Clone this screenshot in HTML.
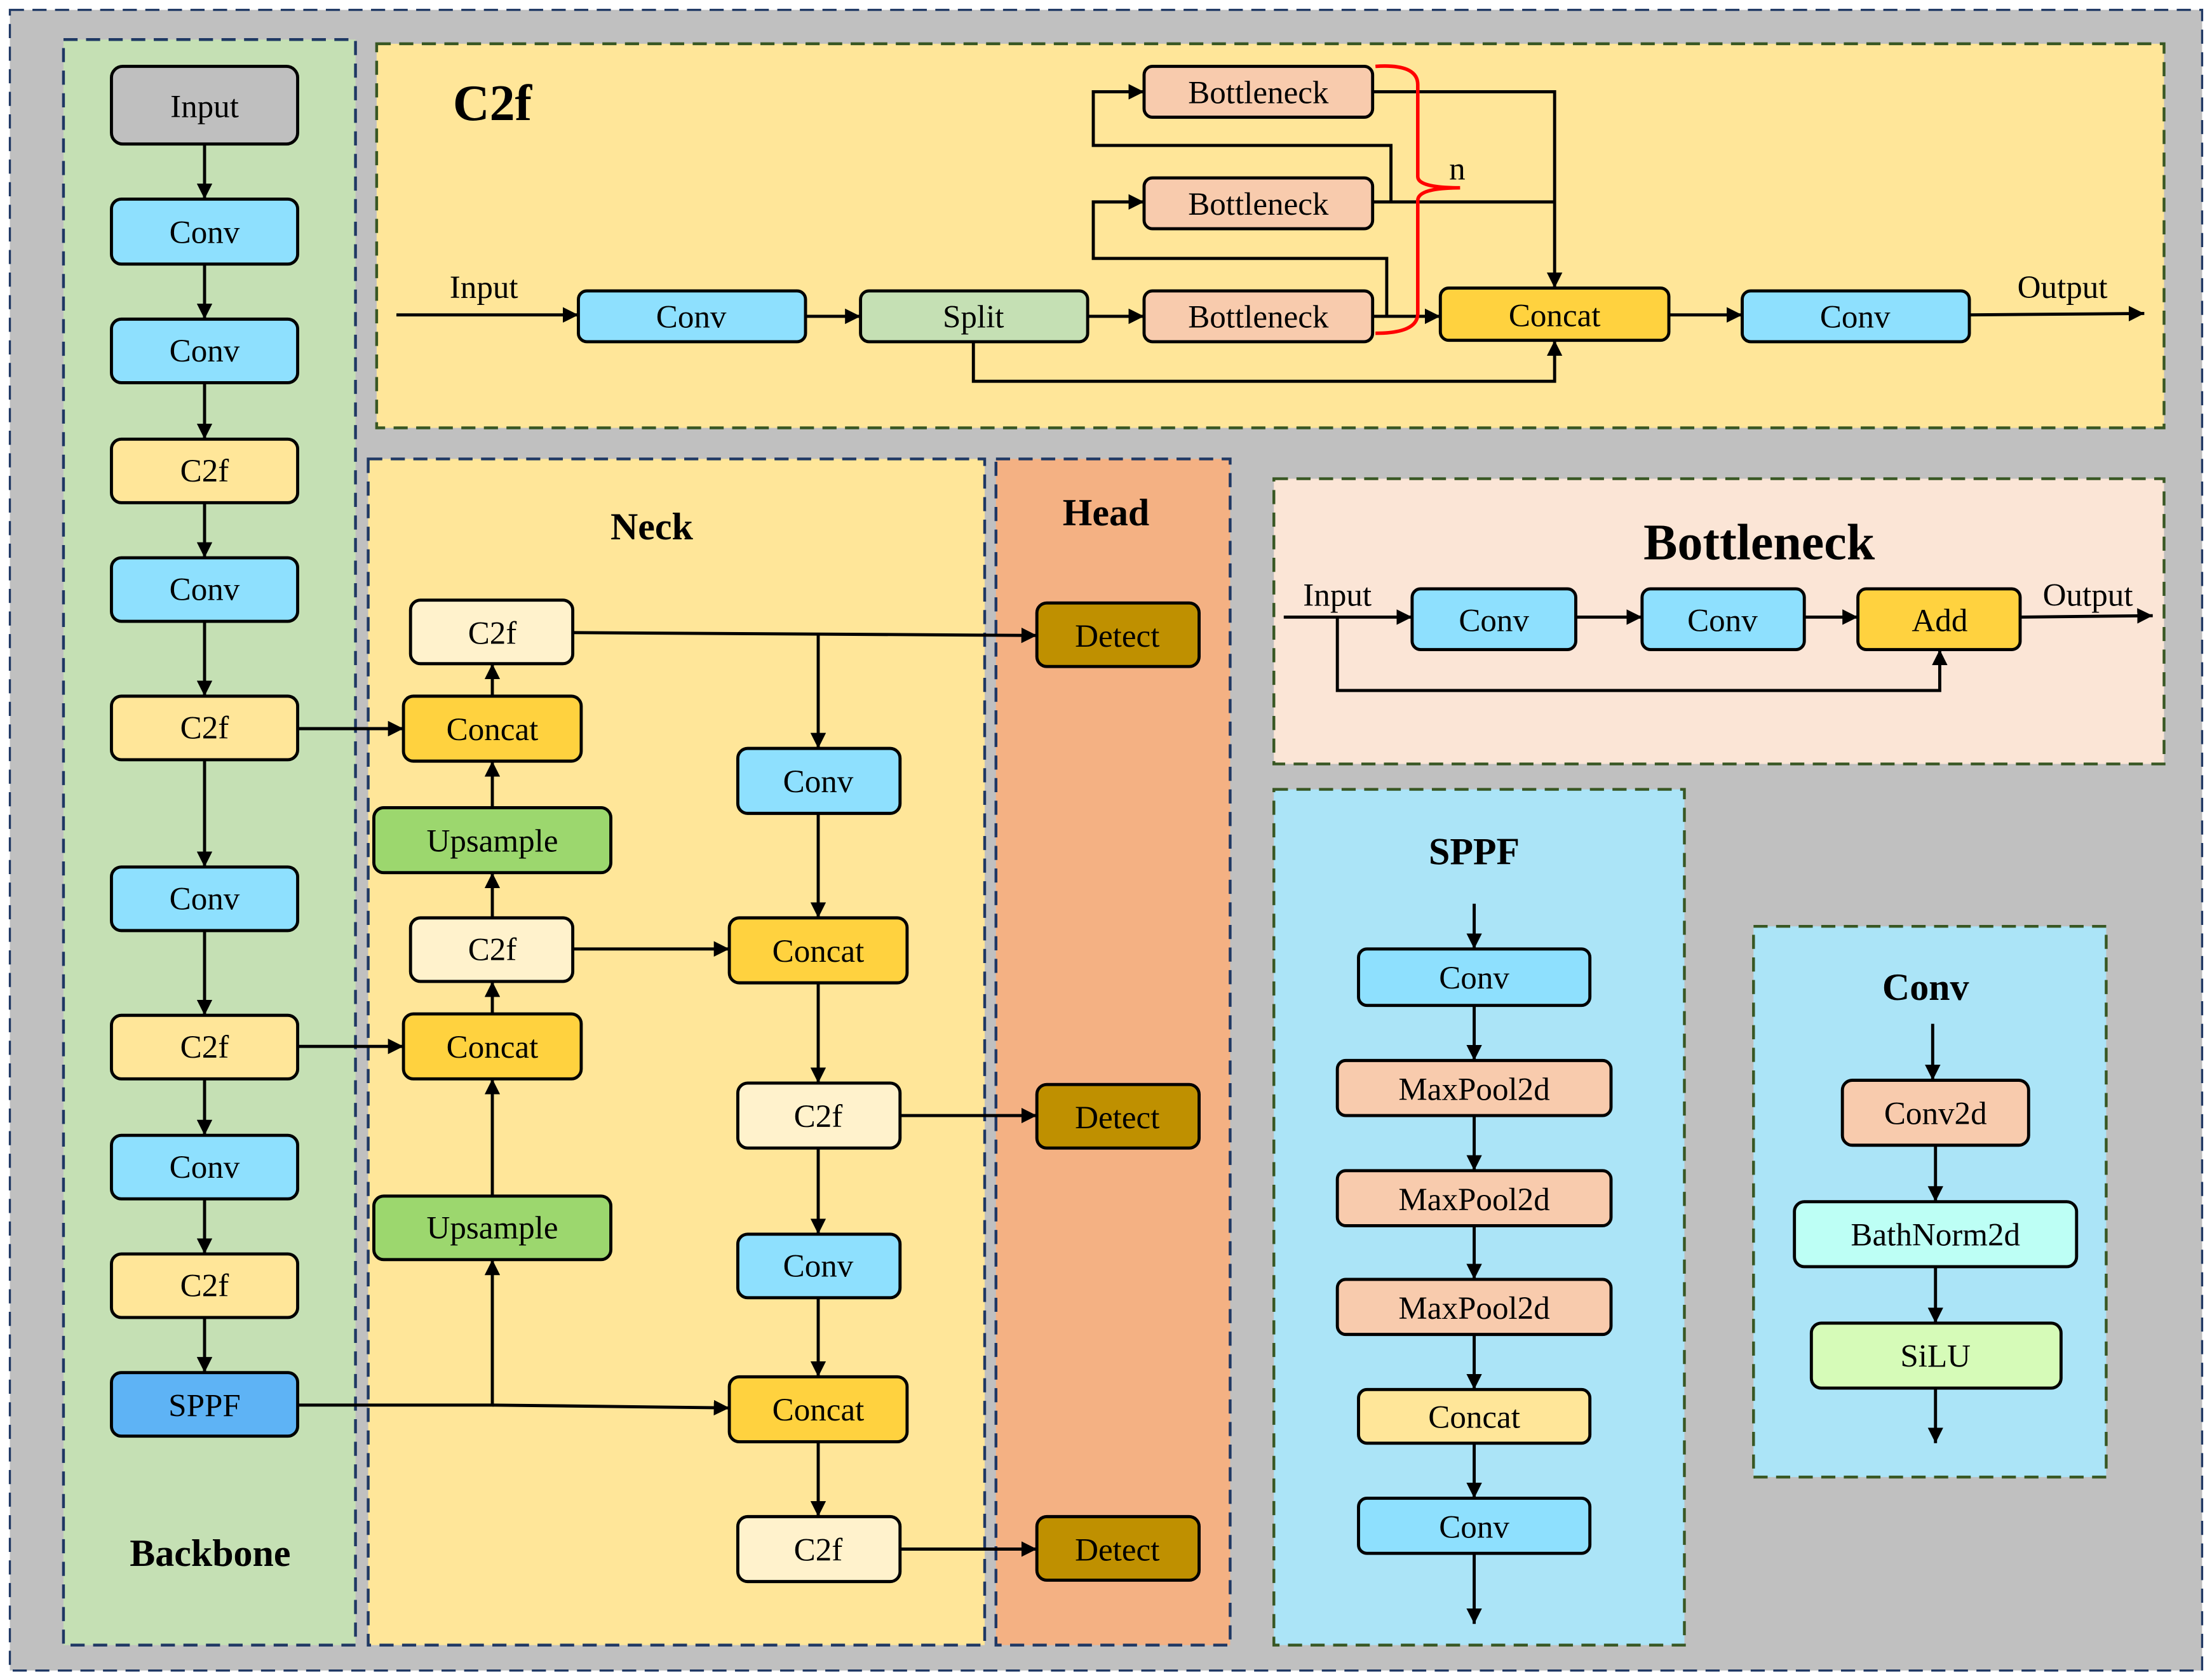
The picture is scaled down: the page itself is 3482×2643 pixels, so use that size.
<!DOCTYPE html>
<html><head><meta charset="utf-8"><style>html,body{margin:0;padding:0;background:#fff}svg{display:block}</style></head><body>
<svg width="3482" height="2643" viewBox="0 0 1568 1189" preserveAspectRatio="none" xmlns="http://www.w3.org/2000/svg" font-family="'Liberation Serif', serif">
<defs><marker id="a" viewBox="0 0 10 10" refX="10" refY="5" markerWidth="5" markerHeight="5" orient="auto"><path d="M0,0L10,5L0,10z" fill="#000"/></marker></defs>
<rect width="1568" height="1189" fill="#fff"/>
<rect x="7" y="7" width="1554" height="1176" fill="#c0c0c0" stroke="#1f3864" stroke-width="1.5" stroke-dasharray="10,6"/>
<g stroke-width="2" stroke-dasharray="10,6">
<rect x="45" y="28" width="207" height="1137" fill="#c5e0b4" stroke="#1f3864"/>
<rect x="267" y="31" width="1267" height="272" fill="#ffe699" stroke="#385723"/>
<rect x="261" y="325" width="437" height="840" fill="#ffe699" stroke="#1f3864"/>
<rect x="706" y="325" width="166" height="840" fill="#f4b183" stroke="#1f3864"/>
<rect x="903" y="339" width="631" height="202" fill="#fbe5d6" stroke="#385723"/>
<rect x="903" y="559" width="291" height="606" fill="#abe4f7" stroke="#385723"/>
<rect x="1243" y="656" width="250" height="390" fill="#abe4f7" stroke="#385723"/>
</g>
<g font-weight="bold" text-anchor="middle" fill="#000">
<text x="149" y="1109" font-size="27">Backbone</text>
<text x="349" y="85" font-size="36">C2f</text>
<text x="462" y="382" font-size="27">Neck</text>
<text x="784" y="372" font-size="27">Head</text>
<text x="1247" y="396" font-size="36">Bottleneck</text>
<text x="1045" y="612" font-size="27">SPPF</text>
<text x="1365" y="708" font-size="27">Conv</text>
</g>
<g stroke="#000" stroke-width="2.2" fill="none" marker-end="url(#a)">
<path d="M145 102V141"/><path d="M145 187V226"/><path d="M145 271V311"/><path d="M145 356V395"/><path d="M145 440V493"/><path d="M145 538V614"/><path d="M145 659V719"/><path d="M145 764V804"/><path d="M145 849V888"/><path d="M145 933V972"/>
<path d="M211 516H286"/><path d="M211 741H286"/>
<path d="M211 995H349V892"/><path d="M349 995L517 997"/>
<path d="M349 847V764"/><path d="M349 718V695"/><path d="M349 650V618"/><path d="M349 572V539"/><path d="M349 493V470"/>
<path d="M406 448L735 450"/><path d="M580 449V530"/>
<path d="M406 672H517"/><path d="M580 576V650"/><path d="M580 696V767"/><path d="M638 790H735"/><path d="M580 813V874"/><path d="M580 919V975"/><path d="M580 1021V1074"/><path d="M638 1097H735"/>
<path d="M281 223H410"/><path d="M571 224H610"/><path d="M771 224H811"/><path d="M973 224H1021"/>
<path d="M690 242V270H1102V241"/>
<path d="M973 65H1102V204"/>
<path d="M983 224V183H775V143H811"/><path d="M986 143V103H775V65H811"/>
<path d="M1183 223H1235"/><path d="M1396 223L1520 222"/>
<path d="M910 437H1001"/><path d="M1117 437H1164"/><path d="M1279 437H1317"/><path d="M1432 437L1526 436"/>
<path d="M948 437V489H1375V460"/>
<path d="M1045 640V672"/><path d="M1045 712V751"/><path d="M1045 790V829"/><path d="M1045 868V906"/><path d="M1045 945V984"/><path d="M1045 1022V1061"/><path d="M1045 1100V1150"/>
<path d="M1370 725V765"/><path d="M1372 811V851"/><path d="M1372 897V937"/><path d="M1372 983V1022"/>
</g>
<path d="M973 143H1102" stroke="#000" stroke-width="2.2" fill="none"/>
<path d="M975 47Q1005 45 1005 60V125Q1005 133 1035 133Q1005 133 1005 142V222Q1005 236 975 236" stroke="#f00" stroke-width="2.5" fill="none"/>
<g stroke="#000" stroke-width="2.2">
<rect x="79" y="47" width="132" height="55" rx="8" fill="#bfbfbf"/>
<rect x="79" y="141" width="132" height="46" rx="7" fill="#8ee0fe"/>
<rect x="79" y="226" width="132" height="45" rx="7" fill="#8ee0fe"/>
<rect x="79" y="311" width="132" height="45" rx="7" fill="#ffe699"/>
<rect x="79" y="395" width="132" height="45" rx="7" fill="#8ee0fe"/>
<rect x="79" y="493" width="132" height="45" rx="7" fill="#ffe699"/>
<rect x="79" y="614" width="132" height="45" rx="7" fill="#8ee0fe"/>
<rect x="79" y="719" width="132" height="45" rx="7" fill="#ffe699"/>
<rect x="79" y="804" width="132" height="45" rx="7" fill="#8ee0fe"/>
<rect x="79" y="888" width="132" height="45" rx="7" fill="#ffe699"/>
<rect x="79" y="972" width="132" height="45" rx="7" fill="#5eb3f5"/>
<rect x="291" y="425" width="115" height="45" rx="7" fill="#fff2cc"/>
<rect x="286" y="493" width="126" height="46" rx="7" fill="#ffd23f"/>
<rect x="265" y="572" width="168" height="46" rx="7" fill="#9cd76e"/>
<rect x="291" y="650" width="115" height="45" rx="7" fill="#fff2cc"/>
<rect x="286" y="718" width="126" height="46" rx="7" fill="#ffd23f"/>
<rect x="265" y="847" width="168" height="45" rx="7" fill="#9cd76e"/>
<rect x="523" y="530" width="115" height="46" rx="7" fill="#8ee0fe"/>
<rect x="517" y="650" width="126" height="46" rx="7" fill="#ffd23f"/>
<rect x="523" y="767" width="115" height="46" rx="7" fill="#fff2cc"/>
<rect x="523" y="874" width="115" height="45" rx="7" fill="#8ee0fe"/>
<rect x="517" y="975" width="126" height="46" rx="7" fill="#ffd23f"/>
<rect x="523" y="1074" width="115" height="46" rx="7" fill="#fff2cc"/>
<rect x="735" y="427" width="115" height="45" rx="7" fill="#bf9000"/>
<rect x="735" y="768" width="115" height="45" rx="7" fill="#bf9000"/>
<rect x="735" y="1074" width="115" height="45" rx="7" fill="#bf9000"/>
<rect x="410" y="206" width="161" height="36" rx="6" fill="#8ee0fe"/>
<rect x="610" y="206" width="161" height="36" rx="6" fill="#c5e0b4"/>
<rect x="811" y="47" width="162" height="36" rx="6" fill="#f8cbad"/>
<rect x="811" y="126" width="162" height="36" rx="6" fill="#f8cbad"/>
<rect x="811" y="206" width="162" height="36" rx="6" fill="#f8cbad"/>
<rect x="1021" y="204" width="162" height="37" rx="6" fill="#ffd23f"/>
<rect x="1235" y="206" width="161" height="36" rx="6" fill="#8ee0fe"/>
<rect x="1001" y="417" width="116" height="43" rx="6" fill="#8ee0fe"/>
<rect x="1164" y="417" width="115" height="43" rx="6" fill="#8ee0fe"/>
<rect x="1317" y="417" width="115" height="43" rx="6" fill="#ffd23f"/>
<rect x="963" y="672" width="164" height="40" rx="6" fill="#8ee0fe"/>
<rect x="948" y="751" width="194" height="39" rx="6" fill="#f8cbad"/>
<rect x="948" y="829" width="194" height="39" rx="6" fill="#f8cbad"/>
<rect x="948" y="906" width="194" height="39" rx="6" fill="#f8cbad"/>
<rect x="963" y="984" width="164" height="38" rx="6" fill="#ffe699"/>
<rect x="963" y="1061" width="164" height="39" rx="6" fill="#8ee0fe"/>
<rect x="1306" y="765" width="132" height="46" rx="7" fill="#f8cbad"/>
<rect x="1272" y="851" width="200" height="46" rx="7" fill="#bdfff5"/>
<rect x="1284" y="937" width="177" height="46" rx="7" fill="#d6fbb8"/>
</g>
<g font-size="23" text-anchor="middle" fill="#000">
<text x="145" y="83">Input</text>
<text x="145" y="172">Conv</text><text x="145" y="256">Conv</text><text x="145" y="341">C2f</text><text x="145" y="425">Conv</text><text x="145" y="523">C2f</text><text x="145" y="644">Conv</text><text x="145" y="749">C2f</text><text x="145" y="834">Conv</text><text x="145" y="918">C2f</text><text x="145" y="1003">SPPF</text>
<text x="349" y="456">C2f</text><text x="349" y="524">Concat</text><text x="349" y="603">Upsample</text><text x="349" y="680">C2f</text><text x="349" y="749">Concat</text><text x="349" y="877">Upsample</text>
<text x="580" y="561">Conv</text><text x="580" y="681">Concat</text><text x="580" y="798">C2f</text><text x="580" y="904">Conv</text><text x="580" y="1006">Concat</text><text x="580" y="1105">C2f</text>
<text x="792" y="458">Detect</text><text x="792" y="799">Detect</text><text x="792" y="1105">Detect</text>
<text x="343" y="211">Input</text>
<text x="490" y="232">Conv</text><text x="690" y="232">Split</text>
<text x="892" y="73">Bottleneck</text><text x="892" y="152">Bottleneck</text><text x="892" y="232">Bottleneck</text>
<text x="1102" y="231">Concat</text><text x="1315" y="232">Conv</text><text x="1462" y="211">Output</text>
<text x="1033" y="127">n</text>
<text x="948" y="429">Input</text><text x="1480" y="429">Output</text>
<text x="1059" y="447">Conv</text><text x="1221" y="447">Conv</text><text x="1375" y="447">Add</text>
<text x="1045" y="700">Conv</text><text x="1045" y="779">MaxPool2d</text><text x="1045" y="857">MaxPool2d</text><text x="1045" y="934">MaxPool2d</text><text x="1045" y="1011">Concat</text><text x="1045" y="1089">Conv</text>
<text x="1372" y="796">Conv2d</text><text x="1372" y="882">BathNorm2d</text><text x="1372" y="968">SiLU</text>
</g>
</svg>
</body></html>
